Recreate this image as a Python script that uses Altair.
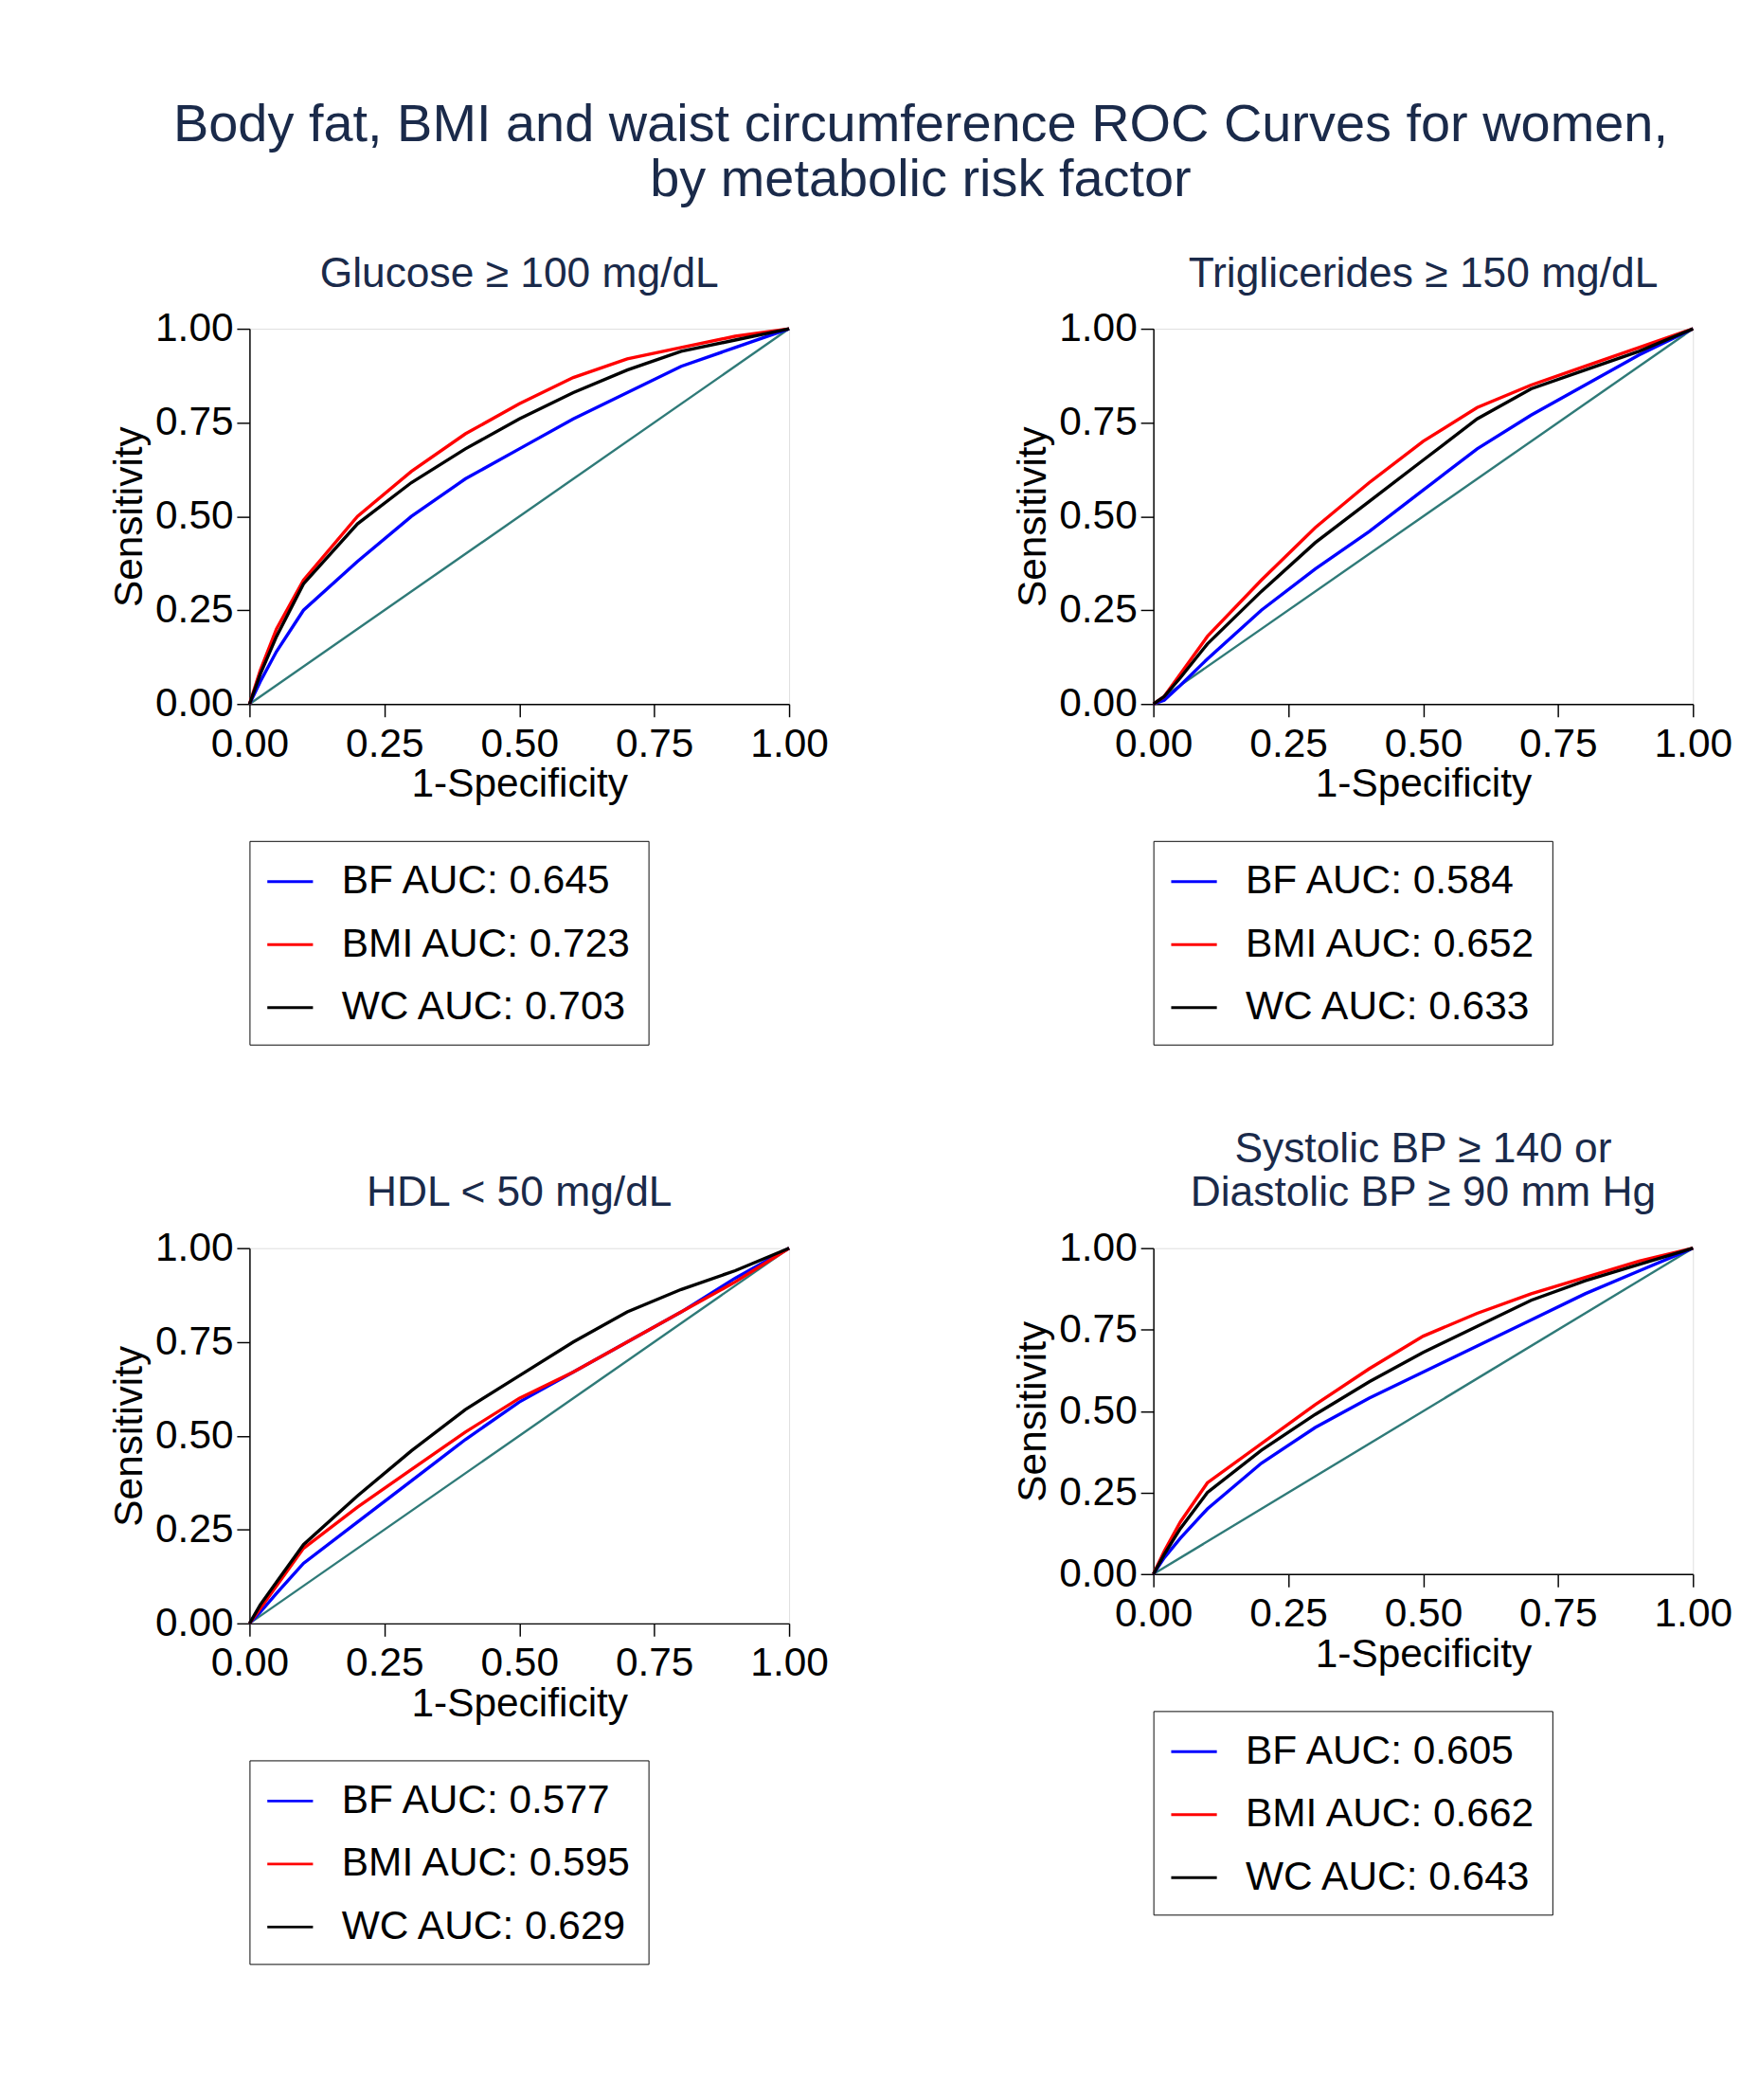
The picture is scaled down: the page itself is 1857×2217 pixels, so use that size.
import altair as alt
import pandas as pd

xs = [0, 0.02, 0.05, 0.1, 0.2, 0.3, 0.4, 0.5, 0.6, 0.7, 0.8, 0.9, 1.0]

glu_bf  = [0, 0.06, 0.14, 0.25, 0.38, 0.50, 0.60, 0.68, 0.76, 0.83, 0.90, 0.95, 1.0]
glu_bmi = [0, 0.09, 0.20, 0.33, 0.50, 0.62, 0.72, 0.80, 0.87, 0.92, 0.95, 0.98, 1.0]
glu_wc  = [0, 0.08, 0.18, 0.32, 0.48, 0.59, 0.68, 0.76, 0.83, 0.89, 0.94, 0.97, 1.0]

tri_bf  = [0, 0.01, 0.05, 0.12, 0.25, 0.36, 0.46, 0.57, 0.68, 0.77, 0.85, 0.93, 1.0]
tri_bmi = [0, 0.02, 0.08, 0.18, 0.33, 0.47, 0.59, 0.70, 0.79, 0.85, 0.90, 0.95, 1.0]
tri_wc  = [0, 0.02, 0.07, 0.16, 0.30, 0.43, 0.54, 0.65, 0.76, 0.84, 0.89, 0.94, 1.0]

hdl_bf  = [0, 0.03, 0.08, 0.16, 0.27, 0.38, 0.49, 0.59, 0.67, 0.75, 0.83, 0.92, 1.0]
hdl_bmi = [0, 0.04, 0.10, 0.20, 0.31, 0.41, 0.51, 0.60, 0.67, 0.75, 0.83, 0.91, 1.0]
hdl_wc  = [0, 0.05, 0.11, 0.21, 0.34, 0.46, 0.57, 0.66, 0.75, 0.83, 0.89, 0.94, 1.0]

bp_bf   = [0, 0.05, 0.11, 0.20, 0.34, 0.45, 0.54, 0.62, 0.70, 0.78, 0.86, 0.93, 1.0]
bp_bmi  = [0, 0.07, 0.16, 0.28, 0.40, 0.52, 0.63, 0.73, 0.80, 0.86, 0.91, 0.96, 1.0]
bp_wc   = [0, 0.06, 0.14, 0.25, 0.38, 0.49, 0.59, 0.68, 0.76, 0.84, 0.90, 0.95, 1.0]

panels = [
    (["Glucose ≥ 100 mg/dL"], glu_bf, glu_bmi, glu_wc, ["0.645", "0.723", "0.703"]),
    (["Triglicerides ≥ 150 mg/dL"], tri_bf, tri_bmi, tri_wc, ["0.584", "0.652", "0.633"]),
    (["HDL < 50 mg/dL"], hdl_bf, hdl_bmi, hdl_wc, ["0.577", "0.595", "0.629"]),
    (["Systolic BP ≥ 140 or", "Diastolic BP ≥ 90 mm Hg"], bp_bf, bp_bmi, bp_wc, ["0.605", "0.662", "0.643"]),
]

FS = 44

def panel(title, bf, bmi, wc, aucs):
    names = [f"BF AUC: {aucs[0]}", f"BMI AUC: {aucs[1]}", f"WC AUC: {aucs[2]}"]
    rows = []
    for name, ys in zip(names, [bf, bmi, wc]):
        for i, (x, y) in enumerate(zip(xs, ys)):
            rows.append({"x": x, "y": y, "s": name, "o": i})
    df = pd.DataFrame(rows)
    diag = pd.DataFrame({"x": [0, 1], "y": [0, 1]})
    h = 357 if len(title) > 1 else 411
    common = dict(values=[0, 0.25, 0.5, 0.75, 1], format=".2f", grid=False,
                  labelFontSize=FS, titleFontSize=FS, tickSize=14,
                  domainColor="black", tickColor="black", labelColor="black",
                  titleColor="black", titleFontWeight="normal", labelFlush=False,
                  domainWidth=1.5, tickWidth=1.5)
    xax = alt.Axis(title="1-Specificity", labelPadding=8, titlePadding=0, **common)
    yax = alt.Axis(title="Sensitivity", labelPadding=4, titlePadding=6, **common)
    d = alt.Chart(diag).mark_line(color="#2f7a78", strokeWidth=2.5).encode(
        x=alt.X("x:Q", scale=alt.Scale(domain=[0, 1], nice=False), axis=xax),
        y=alt.Y("y:Q", scale=alt.Scale(domain=[0, 1], nice=False), axis=yax))
    l = alt.Chart(df).mark_line(strokeWidth=3.5).encode(
        x="x:Q", y="y:Q", order="o:Q",
        color=alt.Color("s:N", sort=names,
                        scale=alt.Scale(domain=names, range=["#0000ff", "#ff0000", "#000000"]),
                        legend=alt.Legend(title=None, orient="bottom", direction="vertical",
                                          symbolType="stroke", symbolSize=2500,
                                          symbolStrokeWidth=3, labelFontSize=FS,
                                          labelColor="black", rowPadding=20,
                                          padding=18, strokeColor="black",
                                          offset=40, labelOffset=30, labelLimit=600)))
    return alt.layer(d, l).properties(
        width=591, height=h,
        title=alt.TitleParams(title, fontSize=FS + 2, fontWeight="normal",
                              color="#1a2a4a", anchor="middle", offset=14))

p = [panel(*a) for a in panels]
row1 = alt.hconcat(p[0], p[1], spacing=200).resolve_scale(color="independent")
row2 = alt.hconcat(p[2], p[3], spacing=200).resolve_scale(color="independent")
chart = alt.vconcat(row1, row2, spacing=90).resolve_scale(color="independent").properties(
    title=alt.TitleParams(["Body fat, BMI and waist circumference ROC Curves for women,",
                           "by metabolic risk factor"],
                          fontSize=58, fontWeight="normal", color="#1a2a4a",
                          anchor="middle", offset=50),
    padding={"left": 110, "top": 60, "right": 20, "bottom": 20}
).configure_view(stroke=None).configure(font="Arial")

chart.save("out.html", embed_options={"renderer": "svg", "actions": False})
